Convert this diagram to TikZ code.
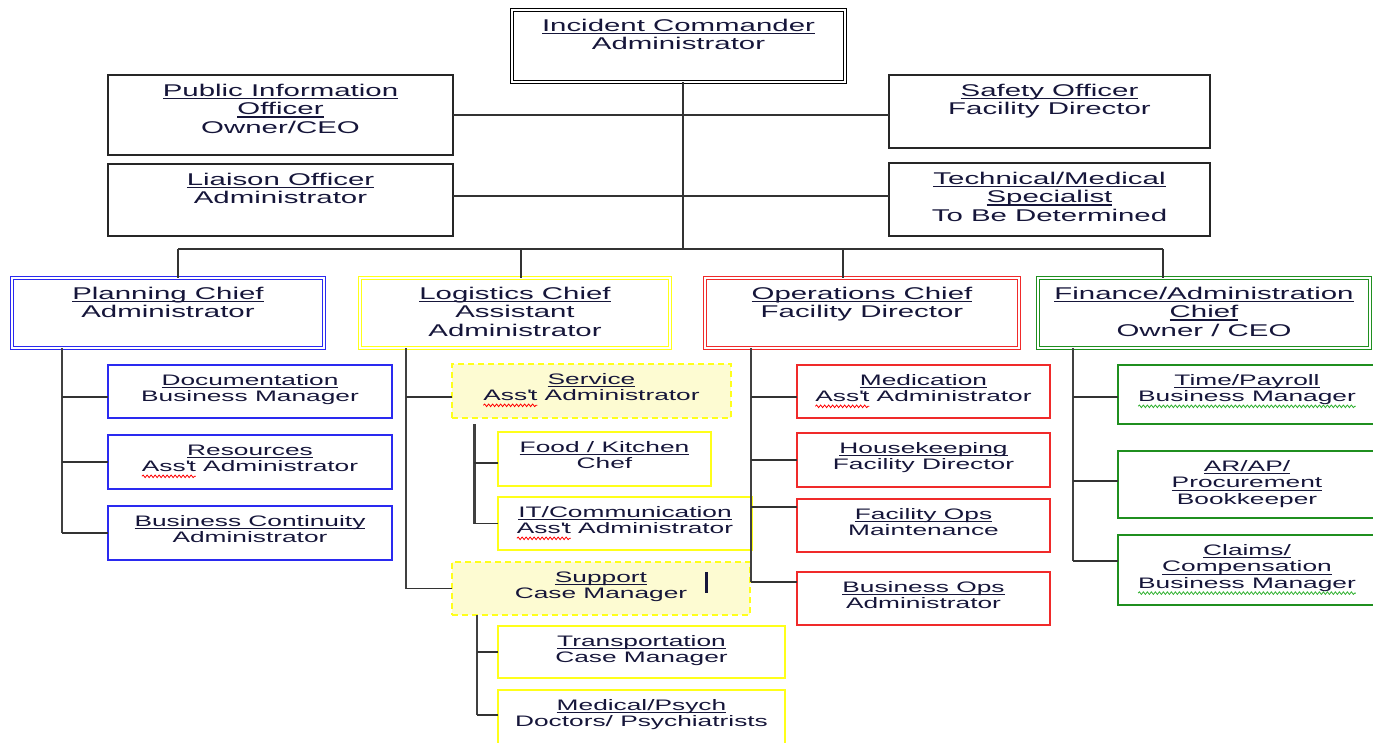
\documentclass[tikz,border=0pt]{standalone}
\usepackage{fontspec}
\setmainfont[FakeStretch=1.73]{Liberation Sans}
\usetikzlibrary{decorations.pathmorphing}
\definecolor{txt}{HTML}{16163A}
\definecolor{cblue}{HTML}{2A2AF0}
\definecolor{cyel}{HTML}{FFFF1A}
\definecolor{cred}{HTML}{F02A2A}
\definecolor{cgreen}{HTML}{1F8F1F}
\definecolor{yfill}{HTML}{FDFBD2}
\definecolor{wgreen}{HTML}{30B030}
\newdimen\wvw
\newcommand\ul[1]{\setbox0\hbox{#1}\leavevmode\rlap{\rule[-3pt]{\wd0}{1.1pt}}\box0\relax}
\newcommand\wv[2]{\setbox0\hbox{#2}\wvw=\wd0\leavevmode\rlap{\tikz[overlay,baseline=0pt]\draw[draw=#1,line width=0.8pt,decorate,decoration={snake,amplitude=1.3pt,segment length=4pt}] (0pt,-4.5pt) -- (\the\wvw,-4.5pt);}\box0\relax}
\newcommand\apo{\textquotesingle}
% #1 style, #2 name, #3 x1, #4 y1, #5 x2, #6 y2, #7 text
\newcommand\obox[7]{%
  \node[#1,anchor=north west,inner sep=0pt,outer sep=0pt,text=txt] (#2) at (#3,#4)
  {\parbox[t][\dimexpr #6pt-#4pt\relax][t]{\dimexpr #5pt-#3pt\relax}{\centering\fontsize{17}{18.5}\selectfont\rule{0pt}{21pt}#7}};}
\newcommand\cbox[7]{%
  \node[#1,anchor=north west,inner sep=0pt,outer sep=0pt,text=txt] (#2) at (#3,#4)
  {\parbox[t][\dimexpr #6pt-#4pt\relax][t]{\dimexpr #5pt-#3pt\relax}{\centering\fontsize{15.2}{16.8}\selectfont\rule{0pt}{20pt}#7}};}
\tikzset{
  blk/.style={draw=black!85,line width=1.6pt},
  dbl/.style={draw=#1,double=white,double distance=2pt,line width=1.1pt},
  sgl/.style={draw=#1,line width=1.5pt},
  dsh/.style={draw=cyel,fill=yfill,line width=2pt,dash pattern=on 6pt off 4pt},
  conn/.style={draw=black!80,line width=1.6pt},
  trunk/.style={draw=black!75,line width=2.2pt},
}
\begin{document}
\begin{tikzpicture}[x=1pt,y=-1pt]
\useasboundingbox (0,0) rectangle (1373,742);
% top level
\obox{dbl=black}{ic}{512}{10}{845}{82}{\ul{Incident Commander}\\Administrator}
\obox{blk}{pio}{108}{75}{453}{155}{\ul{Public Information}\\\ul{Officer}\\Owner/CEO}
\obox{blk}{liaison}{108}{164}{453}{236}{\ul{Liaison Officer}\\Administrator}
\obox{blk}{safety}{889}{75}{1210}{148}{\ul{Safety Officer}\\Facility Director}
\obox{blk}{tech}{889}{163}{1210}{236}{\ul{Technical/Medical}\\\ul{Specialist}\\To Be Determined}
% chiefs
\obox{dbl=cblue}{plan}{12}{278}{324}{348}{\ul{Planning Chief}\\Administrator}
\obox{dbl=cyel}{log}{360}{278}{670}{348}{\ul{Logistics Chief}\\Assistant\\Administrator}
\obox{dbl=cred}{ops}{705}{278}{1019}{348}{\ul{Operations Chief}\\Facility Director}
\obox{dbl=cgreen}{fin}{1038}{278}{1370}{348}{\ul{Finance/Administration}\\\ul{Chief}\\Owner / CEO}
% planning children
\cbox{sgl=cblue}{doc}{108}{365}{392}{418}{\ul{Documentation}\\Business Manager}
\cbox{sgl=cblue}{res}{108}{435}{392}{489}{\ul{Resources}\\\wv{red}{Ass\apo t} Administrator}
\cbox{sgl=cblue}{bc}{108}{506}{392}{560}{\ul{Business Continuity}\\Administrator}
% logistics children
\cbox{dsh}{serv}{452}{364}{731}{418}{\ul{Service}\\\wv{red}{Ass\apo t} Administrator}
\cbox{sgl=cyel}{food}{498}{432}{711}{486}{\ul{Food / Kitchen}\\Chef}
\cbox{sgl=cyel}{it}{498}{497}{752}{550}{\ul{IT/Communication}\\\wv{red}{Ass\apo t} Administrator}
\cbox{dsh}{supp}{452}{562}{750}{615}{\ul{Support}\\Case Manager}
\cbox{sgl=cyel}{trans}{498}{626}{785}{678}{\ul{Transportation}\\Case Manager}
\cbox{sgl=cyel}{med}{498}{690}{785}{748}{\ul{Medical/Psych}\\Doctors/ Psychiatrists}
% operations children
\cbox{sgl=cred}{medic}{797}{365}{1050}{418}{\ul{Medication}\\\wv{red}{Ass\apo t} Administrator}
\cbox{sgl=cred}{house}{797}{433}{1050}{487}{\ul{Housekeeping}\\Facility Director}
\cbox{sgl=cred}{fops}{797}{499}{1050}{552}{\ul{Facility Ops}\\Maintenance}
\cbox{sgl=cred}{bops}{797}{572}{1050}{625}{\ul{Business Ops}\\Administrator}
% finance children
\cbox{sgl=cgreen}{pay}{1118}{365}{1376}{424}{\ul{Time/Payroll}\\\wv{wgreen}{Business Manager}}
\cbox{sgl=cgreen}{arap}{1118}{451}{1376}{518}{\ul{AR/AP/}\\\ul{Procurement}\\Bookkeeper}
\cbox{sgl=cgreen}{claims}{1118}{535}{1376}{605}{\ul{Claims/}\\\ul{Compensation}\\\wv{wgreen}{Business Manager}}
% cursor mark
\draw[line width=3pt,draw=txt] (706,572) -- (706,593);
% connectors, top
\coordinate (icb) at (683,249);
\draw[conn] (ic.south -| icb) -- (icb);
\draw[conn] (pio.east) -- (pio.east -| safety.west);
\draw[conn] ([yshift=4pt]liaison.east) -- ([yshift=4pt]liaison.east -| tech.west);
\coordinate (dP) at (178,249);
\coordinate (dL) at (521,249);
\coordinate (dO) at (843,249);
\coordinate (dF) at (1163,249);
\draw[conn] (dP) -- (dF);
\draw[conn] (dP) -- (dP |- plan.north);
\draw[conn] (dL) -- (dL |- log.north);
\draw[conn] (dO) -- (dO |- ops.north);
\draw[conn] (dF) -- (dF |- fin.north);
% planning
\coordinate (tP) at (62,0);
\draw[trunk] (tP |- plan.south) -- (tP |- bc.west);
\draw[conn] ([yshift=-5.5pt]doc.west) -- ([yshift=-5.5pt]doc.west -| tP);
\draw[conn] (res.west) -- (res.west -| tP);
\draw[conn] (bc.west) -- (bc.west -| tP);
% logistics
\coordinate (tL) at (406,0);
\draw[trunk] (tL |- log.south) -- (tL |- supp.west);
\draw[conn] ([yshift=-6pt]serv.west) -- ([yshift=-6pt]serv.west -| tL);
\draw[conn] (supp.west) -- (supp.west -| tL);
\coordinate (tS) at (474,424);
\draw[trunk,line width=3pt] (tS) -- (tS |- it.west);
\draw[conn] ([yshift=-4pt]food.west) -- ([yshift=-4pt]food.west -| tS);
\draw[conn] (it.west) -- (it.west -| tS);
\coordinate (tU) at (477,0);
\draw[trunk] (tU |- supp.south) -- ([yshift=4pt]tU |- med.west);
\draw[conn] (trans.west) -- (trans.west -| tU);
\draw[conn] ([yshift=4pt]med.west) -- ([yshift=4pt]med.west -| tU);
% operations
\coordinate (tO) at (751,0);
\draw[trunk] (tO |- ops.south) -- ([yshift=16.5pt]tO |- bops.west);
\draw[conn] ([yshift=-5.5pt]medic.west) -- ([yshift=-5.5pt]medic.west -| tO);
\draw[conn] (house.west) -- (house.west -| tO);
\draw[conn] ([yshift=18.5pt]fops.west) -- ([yshift=18.5pt]fops.west -| tO);
\draw[conn] ([yshift=16.5pt]bops.west) -- ([yshift=16.5pt]bops.west -| tO);
% finance
\coordinate (tF) at (1073,0);
\draw[trunk] (tF |- fin.south) -- ([yshift=9pt]tF |- claims.west);
\draw[conn] ([yshift=-2.5pt]pay.west) -- ([yshift=-2.5pt]pay.west -| tF);
\draw[conn] ([yshift=3.5pt]arap.west) -- ([yshift=3.5pt]arap.west -| tF);
\draw[conn] ([yshift=9pt]claims.west) -- ([yshift=9pt]claims.west -| tF);
\end{tikzpicture}
\end{document}
